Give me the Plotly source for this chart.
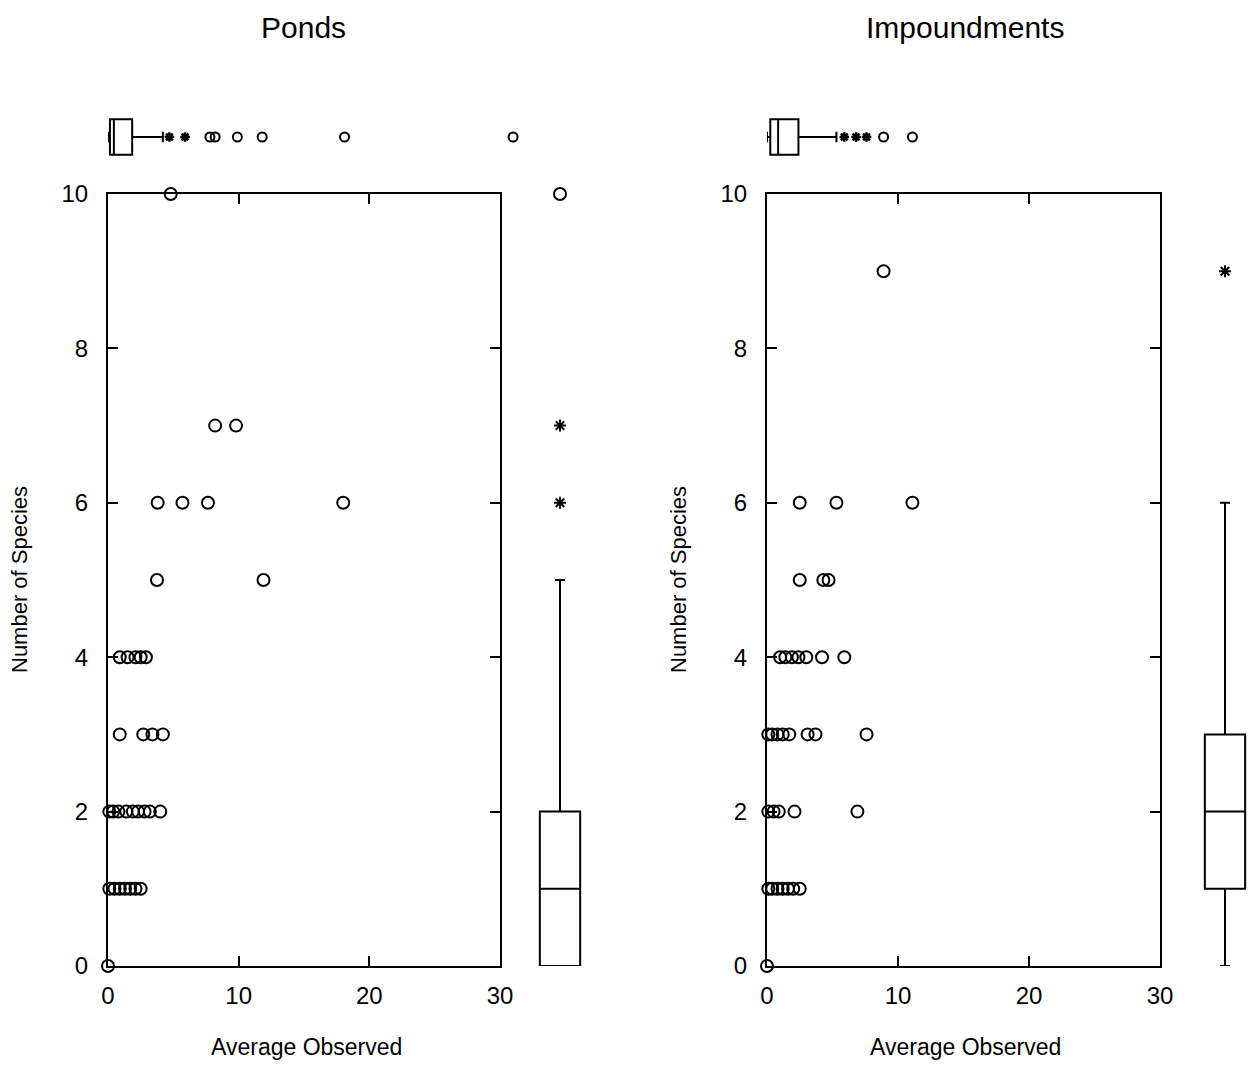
import plotly.graph_objects as go

# ---- Ponds: average observed vs number of species ----
ponds_x = [0,
           0.1, 0.5, 0.9, 1.3, 1.7, 2.1, 2.5,
           0.1, 0.4, 0.8, 1.4, 1.9, 2.3, 2.8, 3.2, 4.0,
           0.9, 2.7, 3.4, 4.2,
           0.9, 1.5, 2.1, 2.5, 2.9,
           3.75, 11.9,
           3.8, 5.7, 7.65, 18.0,
           8.2, 9.8,
           4.8]
ponds_y = [0,
           1, 1, 1, 1, 1, 1, 1,
           2, 2, 2, 2, 2, 2, 2, 2, 2,
           3, 3, 3, 3,
           4, 4, 4, 4, 4,
           5, 5,
           6, 6, 6, 6,
           7, 7,
           10]

# ---- Impoundments ----
imp_x = [0,
         0.1, 0.4, 0.8, 1.2, 1.6, 2.0, 2.5,
         0.1, 0.5, 0.9, 2.1, 6.9,
         0.1, 0.4, 0.8, 1.2, 1.7, 3.1, 3.7, 7.6,
         1.0, 1.4, 1.9, 2.4, 3.0, 4.2, 5.9,
         2.5, 4.3, 4.7,
         2.5, 5.3, 11.1,
         8.9]
imp_y = [0,
         1, 1, 1, 1, 1, 1, 1,
         2, 2, 2, 2, 2,
         3, 3, 3, 3, 3, 3, 3, 3,
         4, 4, 4, 4, 4, 4, 4,
         5, 5, 5,
         6, 6, 6,
         9]

# Marginal box summaries for Average Observed (horizontal, on top)
ponds_xbox = dict(lowerfence=0.0, q1=0.15, median=0.45, q3=1.85, upperfence=4.2)
ponds_xbox_near = [4.7, 5.9]                         # outside values (asterisks)
ponds_xbox_far = [7.8, 8.2, 9.9, 11.8, 18.1, 31.0]   # far outside values (circles)
imp_xbox = dict(lowerfence=0.0, q1=0.25, median=0.85, q3=2.4, upperfence=5.3)
imp_xbox_near = [5.9, 6.8, 7.6]
imp_xbox_far = [8.9, 11.1]

# Marginal box summaries for Number of Species (vertical, on right)
ponds_ybox = dict(lowerfence=0, q1=0, median=1, q3=2, upperfence=5)
ponds_ybox_near = [6, 7]
ponds_ybox_far = [10]
imp_ybox = dict(lowerfence=0, q1=1, median=2, q3=3, upperfence=6)
imp_ybox_near = [9]
imp_ybox_far = []

titles = ["Ponds", "Impoundments"]
x_title = "Average Observed"
y_title = "Number of Species"
x_ticks = [0, 10, 20, 30]
y_ticks = [0, 2, 4, 6, 8, 10]

W, H = 1254, 1066
FONT = "Liberation Sans"


# pixel position on the page -> paper fraction
def px(x):
    return min(max(x / W, 0.0), 1.0)


def py(y):
    return min(max(1 - y / H, 0.0), 1.0)


fig = go.Figure()

panels = [
    dict(x=ponds_x, y=ponds_y, xbox=ponds_xbox, xnear=ponds_xbox_near, xfar=ponds_xbox_far,
         ybox=ponds_ybox, ynear=ponds_ybox_near, yfar=ponds_ybox_far,
         left=108, right=500, boxleft=536, boxright=584, title=titles[0], tx=303),
    dict(x=imp_x, y=imp_y, xbox=imp_xbox, xnear=imp_xbox_near, xfar=imp_xbox_far,
         ybox=imp_ybox, ynear=imp_ybox_near, yfar=imp_ybox_far,
         left=767, right=1160, boxleft=1201, boxright=1249, title=titles[1], tx=965),
]

top, bottom = 194, 966
tb_top, tb_bot = 116, 158

layout = dict(
    width=W, height=H, margin=dict(l=0, r=0, t=0, b=0, pad=0, autoexpand=False),
    paper_bgcolor="white", plot_bgcolor="white", showlegend=False,
    font=dict(family=FONT, color="black"),
)
annotations = []

for i, p in enumerate(panels):
    n = i * 3
    sfx = "" if n == 0 else str(n + 1)
    sx, sy = f"x{sfx}", f"y{sfx}"
    tx_, ty_ = f"x{n+2}", f"y{n+2}"
    rx_, ry_ = f"x{n+3}", f"y{n+3}"

    # main scatter
    fig.add_trace(go.Scatter(
        x=p["x"], y=p["y"], mode="markers", xaxis=sx, yaxis=sy, cliponaxis=False,
        marker=dict(symbol="circle-open", size=12, color="black", line=dict(width=2))))

    span = p["right"] - p["left"]
    ax_common = dict(showgrid=False, zeroline=False, linecolor="black", linewidth=2,
                     mirror="ticks", ticks="inside", ticklen=10, tickwidth=1.5,
                     tickcolor="black", automargin=False,
                     tickfont=dict(size=24, family=FONT, color="black"))
    layout[f"xaxis{sfx}"] = dict(
        ax_common, domain=[px(p["left"]), px(p["right"])], range=[0, 30],
        tickvals=x_ticks, anchor=sy, ticklabelstandoff=7)
    layout[f"yaxis{sfx}"] = dict(
        ax_common, domain=[py(bottom), py(top)], range=[0, 10],
        tickvals=y_ticks, anchor=sx, ticklabelstandoff=13)

    # top marginal box (horizontal)
    b = p["xbox"]
    fig.add_trace(go.Box(
        orientation="h", y=[0], q1=[b["q1"]], median=[b["median"]], q3=[b["q3"]],
        lowerfence=[b["lowerfence"]], upperfence=[b["upperfence"]],
        xaxis=tx_, yaxis=ty_, boxpoints=False, width=0.85, whiskerwidth=0.3,
        fillcolor="white", line=dict(color="black", width=2)))
    fig.add_trace(go.Scatter(
        x=p["xnear"], y=[0] * len(p["xnear"]), mode="markers", xaxis=tx_, yaxis=ty_,
        cliponaxis=False,
        marker=dict(symbol="asterisk-open", size=8, color="black",
                    line=dict(width=2.5, color="black"))))
    fig.add_trace(go.Scatter(
        x=p["xfar"], y=[0] * len(p["xfar"]), mode="markers", xaxis=tx_, yaxis=ty_,
        cliponaxis=False,
        marker=dict(symbol="circle-open", size=9, color="black", line=dict(width=2))))
    tb_range = 33.06
    tb_right = p["left"] + span * tb_range / 30
    layout[f"xaxis{n+2}"] = dict(domain=[px(p["left"]), px(tb_right)], range=[0, tb_range],
                                 visible=False, anchor=ty_)
    layout[f"yaxis{n+2}"] = dict(domain=[py(tb_bot), py(tb_top)], range=[-0.5, 0.5],
                                 visible=False, anchor=tx_)

    # right marginal box (vertical)
    b = p["ybox"]
    fig.add_trace(go.Box(
        x=[0], q1=[b["q1"]], median=[b["median"]], q3=[b["q3"]],
        lowerfence=[b["lowerfence"]], upperfence=[b["upperfence"]],
        xaxis=rx_, yaxis=ry_, boxpoints=False, width=0.84, whiskerwidth=0.25,
        fillcolor="white", line=dict(color="black", width=2)))
    fig.add_trace(go.Scatter(
        x=[0] * len(p["ynear"]), y=p["ynear"], mode="markers", xaxis=rx_, yaxis=ry_,
        cliponaxis=False,
        marker=dict(symbol="asterisk-open", size=10, color="black",
                    line=dict(width=2, color="black"))))
    fig.add_trace(go.Scatter(
        x=[0] * len(p["yfar"]), y=p["yfar"], mode="markers", xaxis=rx_, yaxis=ry_,
        cliponaxis=False,
        marker=dict(symbol="circle-open", size=12, color="black", line=dict(width=2))))
    layout[f"xaxis{n+3}"] = dict(domain=[px(p["boxleft"]), px(p["boxright"])],
                                 range=[-0.5, 0.5], visible=False, anchor=ry_)
    layout[f"yaxis{n+3}"] = dict(domain=[py(bottom), py(top)], range=[0, 10],
                                 visible=False, anchor=rx_)

    # panel title and axis titles
    annotations.append(dict(text=p["title"], x=px(p["tx"]), y=py(28),
                            xref="paper", yref="paper", xanchor="center", yanchor="middle",
                            showarrow=False, font=dict(size=30, family=FONT)))
    annotations.append(dict(text=x_title, x=px(p["left"] + 0.5 * 397), y=py(1047),
                            xref="paper", yref="paper", xanchor="center", yanchor="middle",
                            showarrow=False, font=dict(size=23, family=FONT)))
    annotations.append(dict(text=y_title, x=px(p["left"] - 89), y=py(580),
                            xref="paper", yref="paper", xanchor="center", yanchor="middle",
                            showarrow=False, textangle=-90,
                            font=dict(size=22, family=FONT)))

layout["annotations"] = annotations
fig.update_layout(**layout)
fig.write_html("out.html")
